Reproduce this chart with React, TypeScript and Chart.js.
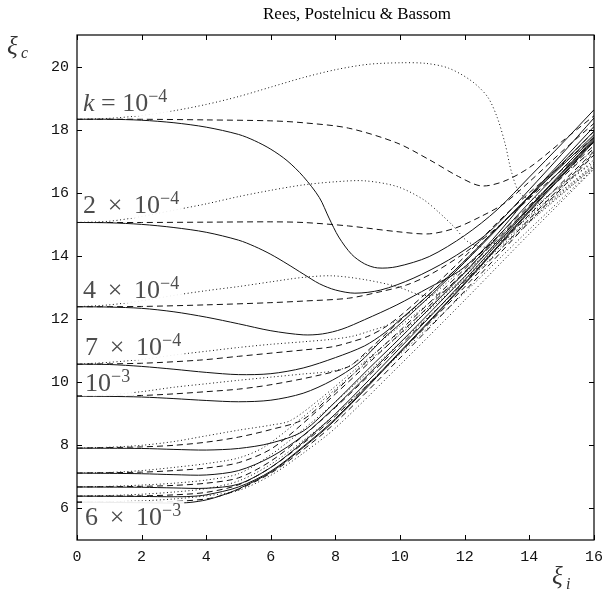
import React, { useEffect, useRef } from 'react';
import { Chart, registerables } from 'chart.js';

Chart.register(...registerables);

const xTickValues = [0, 2, 4, 6, 8, 10, 12, 14, 16];
const yTickValues = [6, 8, 10, 12, 14, 16, 18, 20];

// k = 1e-4
const k1Solid = [[0,18.33],[1,18.33],[2,18.3],[3,18.22],[4,18.08],[5,17.85],[5.5,17.65],[6,17.38],[6.5,17.02],[7,16.52],[7.5,15.85],[7.8,15.2],[8.1,14.6],[8.5,14.05],[8.9,13.75],[9.3,13.62],[9.9,13.66],[10.9,13.98],[12,14.65],[13,15.46],[14,16.5],[15,17.55],[16,18.63]];
const k1Dashed = [[0,18.33],[2,18.33],[4,18.31],[6,18.28],[7,18.22],[8.4,18.05],[9.9,17.58],[10.9,17.05],[11.8,16.52],[12.5,16.22],[13.2,16.36],[14,16.8],[15,17.62],[16,18.44]];
const k1Dotted = [[0,18.33],[1,18.36],[2,18.45],[3,18.6],[4,18.8],[5,19.05],[6,19.35],[7,19.65],[8,19.9],[9,20.07],[10,20.12],[10.8,20.1],[11.5,19.95],[12.2,19.55],[12.7,19.05],[13,18.4],[13.25,17.55],[13.45,16.65],[13.7,16.0],[14.1,15.8],[15,16.56],[16,17.35]];
// k = 2e-4
const k2Solid = [[0,15.06],[1,15.05],[2,15.0],[3,14.9],[4,14.75],[5,14.5],[5.5,14.3],[6,14.05],[6.5,13.75],[7,13.43],[7.5,13.12],[8,12.92],[8.6,12.82],[9.4,12.92],[10.4,13.29],[11.5,13.87],[12.5,14.55],[13,15.0],[14,16.1],[15,17.22],[16,18.37]];
const k2Dashed = [[0,15.06],[2,15.06],[4,15.07],[6,15.08],[7,15.06],[8.4,14.95],[9.9,14.77],[10.9,14.7],[11.7,14.88],[12.5,15.25],[13.2,15.65],[14,16.35],[15,17.3],[16,18.2]];
const k2Dotted = [[0,15.06],[1,15.1],[2,15.25],[3,15.45],[4,15.65],[5,15.88],[6,16.08],[7,16.25],[8,16.35],[8.9,16.38],[9.9,16.2],[10.7,15.8],[11.2,15.38],[11.66,14.93],[12.1,14.45],[12.6,14.28],[13,14.45],[14,15.37],[15,16.27],[16,17.2]];
// k = 4e-4
const k3Solid = [[0,12.39],[1,12.38],[2,12.34],[3,12.23],[4,12.06],[5,11.85],[6,11.63],[7,11.5],[7.6,11.53],[8.2,11.68],[8.9,11.98],[9.9,12.45],[10.9,13.0],[11.8,13.5],[12.5,14.12],[13.2,14.92],[14,15.9],[15,17.0],[16,18.1]];
const k3Dashed = [[0,12.39],[2,12.4],[4,12.45],[6,12.52],[7,12.57],[8.4,12.66],[9.4,12.87],[10.2,13.08],[11,13.45],[12,14.1],[13,14.9],[14,15.85],[15,16.9],[16,17.95]];
const k3Dotted = [[0,12.39],[1,12.45],[2,12.58],[3,12.75],[4,12.9],[5,13.03],[6,13.18],[7,13.32],[7.9,13.37],[8.9,13.25],[9.9,13.03],[10.7,12.75],[11.3,12.85],[12,13.45],[13,14.42],[14,15.29],[15,16.16],[16,17.05]];
// k = 7e-4
const k4Solid = [[0,10.57],[1,10.56],[2,10.5],[3,10.41],[4,10.31],[5,10.24],[6,10.27],[7,10.45],[8,10.78],[8.9,11.15],[9.5,11.55],[10,11.98],[11,12.88],[12,13.85],[13,14.88],[14,15.9],[15,16.92],[16,17.95]];
const k4Dashed = [[0,10.57],[2,10.6],[3.8,10.7],[5,10.82],[6,10.92],[7,11.02],[7.9,11.12],[8.5,11.28],[9,11.45],[9.5,11.72],[10,12.1],[11,13.0],[12,13.98],[13,15.05],[14,16.0],[15,16.88],[16,17.75]];
const k4Dotted = [[0,10.57],[1,10.63],[2,10.72],[3,10.86],[4,10.98],[5,11.1],[6,11.2],[7,11.28],[7.9,11.36],[8.5,11.45],[9,11.6],[9.7,11.85],[10.5,12.35],[11.5,13.2],[12.5,14.12],[13.5,15.01],[14.5,15.85],[15.25,16.44],[16,16.96]];
// k = 1e-3
const k5Solid = [[0,9.56],[1,9.55],[2,9.53],[3,9.48],[4,9.42],[5,9.38],[6,9.43],[7,9.65],[7.9,10.06],[8.7,10.59],[9.5,11.4],[10,11.85],[11,12.8],[12,13.8],[13,14.85],[14,15.88],[15,16.85],[16,17.84]];
const k5Dashed = [[0,9.56],[2,9.58],[3,9.63],[4,9.7],[5,9.78],[6,9.92],[7.4,10.2],[8.4,10.49],[9,11.0],[10,11.95],[11,12.88],[12,13.85],[13,14.88],[14,15.82],[15,16.72],[16,17.6]];
const k5Dotted = [[0,9.56],[1,9.6],[2,9.7],[3,9.84],[4,9.95],[5,10.06],[6,10.16],[7,10.26],[7.9,10.35],[8.5,10.55],[9.5,11.38],[10.5,12.18],[11.5,13.01],[12.5,13.92],[13.5,14.81],[14.5,15.67],[15.25,16.27],[16,16.9]];
// k = 2e-3
const k6Solid = [[0,7.91],[2,7.9],[3,7.87],[4,7.85],[5,7.9],[6,8.07],[7,8.45],[8,9.38],[9,10.4],[10,11.4],[12,13.48],[14,15.69],[16,17.78]];
const k6Dashed = [[0,7.91],[2,7.95],[3,8.0],[4,8.1],[5,8.26],[6,8.5],[7,8.82],[8,9.72],[9,10.7],[10,11.64],[12,13.59],[14,15.6],[16,17.5]];
const k6Dotted = [[0,7.91],[1,7.94],[2,8.0],[3,8.12],[4,8.3],[5,8.48],[6,8.64],[6.6,8.78],[7.5,9.45],[8.5,10.31],[10,11.6],[12,13.34],[14,15.17],[16,16.86]];
// k = 3e-3
const k7Solid = [[0,7.12],[2,7.1],[3,7.07],[4,7.06],[5,7.2],[6,7.63],[7,8.31],[8,9.23],[10,11.25],[12,13.35],[14,15.55],[16,17.73]];
const k7Dashed = [[0,7.12],[2,7.15],[3,7.2],[4,7.28],[5,7.45],[6,7.88],[7,8.7],[8,9.63],[10,11.54],[12,13.5],[14,15.53],[16,17.41]];
const k7Dotted = [[0,7.12],[1,7.14],[2,7.2],[3,7.3],[4,7.42],[5,7.6],[5.8,7.95],[7,8.9],[8,9.78],[10,11.51],[12,13.27],[14,15.11],[16,16.83]];
// k = 4e-3
const k8Solid = [[0,6.68],[2,6.67],[3,6.65],[4,6.64],[5,6.77],[6,7.3],[7,8.1],[8,9.0],[10,11.09],[12,13.24],[14,15.51],[16,17.69]];
const k8Dashed = [[0,6.68],[2,6.7],[3,6.73],[4,6.8],[5,6.97],[6,7.5],[7,8.3],[8,9.2],[10,11.17],[12,13.19],[14,15.31],[16,17.31]];
const k8Dotted = [[0,6.68],[1,6.7],[2,6.74],[3,6.8],[4,6.9],[5,7.1],[6,7.7],[7,8.5],[8,9.38],[10,11.25],[12,13.14],[14,15.06],[16,16.81]];
// k = 5e-3
const k9Solid = [[0,6.39],[2,6.38],[3,6.37],[3.5,6.38],[4,6.43],[5,6.68],[6,7.18],[7,7.96],[8,8.85],[10,10.97],[12,13.14],[14,15.44],[16,17.65]];
const k9Dashed = [[0,6.39],[2,6.4],[3,6.43],[4,6.51],[5,6.75],[6,7.3],[7,8.06],[8,8.93],[10,10.94],[12,13.02],[14,15.17],[16,17.26]];
const k9Dotted = [[0,6.39],[1,6.41],[2,6.45],[3,6.52],[4,6.63],[5,6.87],[6,7.4],[7,8.15],[8,8.99],[10,10.89],[12,12.84],[14,14.84],[16,16.77]];
// k = 6e-3
const k10Solid = [[0,6.2],[2,6.18],[3,6.17],[3.5,6.19],[4,6.27],[4.5,6.42],[5,6.62],[6,7.15],[7,7.93],[8,8.81],[10,10.94],[12,13.11],[14,15.4],[16,17.62]];
const k10Dashed = [[0,6.2],[2,6.2],[3,6.22],[4,6.3],[4.5,6.42],[5,6.6],[6,7.12],[7,7.86],[8,8.72],[10,10.77],[12,12.89],[14,15.08],[16,17.2]];
const k10Dotted = [[0,6.2],[1,6.21],[2,6.24],[3,6.3],[4,6.4],[5,6.57],[6,7.05],[7,7.75],[8,8.55],[10,10.55],[12,12.6],[14,14.7],[16,16.75]];

const solidCurves = [k1Solid, k2Solid, k3Solid, k4Solid, k5Solid, k6Solid, k7Solid, k8Solid, k9Solid, k10Solid];
const dashedCurves = [k1Dashed, k2Dashed, k3Dashed, k4Dashed, k5Dashed, k6Dashed, k7Dashed, k8Dashed, k9Dashed, k10Dashed];
const dottedCurves = [k1Dotted, k2Dotted, k3Dotted, k4Dotted, k5Dotted, k6Dotted, k7Dotted, k8Dotted, k9Dotted, k10Dotted];

type Part = { t: string; italic?: boolean; sup?: boolean };
const SP = ' \u2009';
const curveLabels: { parts: Part[]; x: number; base: number }[] = [
  { parts: [{ t: 'k', italic: true }, { t: ' = 10' }, { t: '\u22124', sup: true }], x: 83, base: 111 },
  { parts: [{ t: `2${SP}\u00d7${SP}10` }, { t: '\u22124', sup: true }], x: 83, base: 213 },
  { parts: [{ t: `4${SP}\u00d7${SP}10` }, { t: '\u22124', sup: true }], x: 83, base: 298 },
  { parts: [{ t: `7${SP}\u00d7${SP}10` }, { t: '\u22124', sup: true }], x: 85, base: 355 },
  { parts: [{ t: '10' }, { t: '\u22123', sup: true }], x: 85, base: 391 },
  { parts: [{ t: `6${SP}\u00d7${SP}10` }, { t: '\u22123', sup: true }], x: 85, base: 525 },
];

const titleText = 'Rees, Postelnicu & Bassom';

const SERIF = '"Liberation Serif", "DejaVu Serif", serif';
const MONO = '"Liberation Mono", "DejaVu Sans Mono", monospace';

const decorPlugin = {
  id: 'decor',
  afterDatasetsDraw(chart: any) {
    const ctx = chart.ctx as CanvasRenderingContext2D;
    ctx.save();
    for (const lab of curveLabels) {
      let w = 0;
      for (const p of lab.parts) {
        ctx.font = `${p.italic ? 'italic ' : ''}${p.sup ? 18 : 26}px ${SERIF}`;
        w += ctx.measureText(p.t).width;
      }
      ctx.fillStyle = 'rgba(255,255,255,0.92)';
      ctx.fillRect(lab.x - 3, lab.base - 24, w + 6, 29);
      let cx = lab.x;
      ctx.fillStyle = '#4d4d4d';
      ctx.textBaseline = 'alphabetic';
      ctx.textAlign = 'left';
      for (const p of lab.parts) {
        ctx.font = `${p.italic ? 'italic ' : ''}${p.sup ? 18 : 26}px ${SERIF}`;
        ctx.fillText(p.t, cx, p.sup ? lab.base - 9 : lab.base);
        cx += ctx.measureText(p.t).width;
      }
    }
    ctx.restore();
  },
  afterDraw(chart: any) {
    const ctx = chart.ctx as CanvasRenderingContext2D;
    const a = chart.chartArea;
    const xs = chart.scales.x;
    const ys = chart.scales.y;
    ctx.save();
    ctx.strokeStyle = '#000';
    ctx.lineWidth = 1.2;
    ctx.setLineDash([]);
    ctx.strokeRect(a.left, a.top, a.right - a.left, a.bottom - a.top);
    ctx.lineWidth = 1;
    ctx.beginPath();
    for (const v of xTickValues) {
      const px = Math.round(xs.getPixelForValue(v)) + 0.5;
      ctx.moveTo(px, a.bottom); ctx.lineTo(px, a.bottom - 5);
      ctx.moveTo(px, a.top); ctx.lineTo(px, a.top + 5);
    }
    for (const v of yTickValues) {
      const py = Math.round(ys.getPixelForValue(v)) + 0.5;
      ctx.moveTo(a.left, py); ctx.lineTo(a.left + 5, py);
      ctx.moveTo(a.right, py); ctx.lineTo(a.right - 5, py);
    }
    ctx.stroke();

    ctx.fillStyle = '#000';
    ctx.font = `17px ${SERIF}`;
    ctx.textAlign = 'center';
    ctx.textBaseline = 'alphabetic';
    ctx.fillText(titleText, 357, 19);

    ctx.fillStyle = '#333';
    ctx.textAlign = 'left';
    ctx.font = `italic 25px ${SERIF}`;
    ctx.fillText('\u03be', 7, 54);
    ctx.font = `italic 16px ${SERIF}`;
    ctx.fillText('c', 21, 58);
    ctx.font = `italic 25px ${SERIF}`;
    ctx.fillText('\u03be', 552, 584);
    ctx.font = `italic 16px ${SERIF}`;
    ctx.fillText('i', 566, 589);
    ctx.restore();
  },
};

function makeDataset(points: number[][], dash: number[]) {
  return {
    data: points.map(([x, y]) => ({ x, y })),
    borderColor: '#111',
    borderWidth: 1,
    borderDash: dash,
    pointRadius: 0,
    fill: false,
    tension: 0.3,
  };
}

export default function App() {
  const ref = useRef<HTMLCanvasElement>(null);
  useEffect(() => {
    if (!ref.current) return;
    const datasets = [
      ...dottedCurves.map((c) => makeDataset(c, [1, 2.6])),
      ...dashedCurves.map((c) => makeDataset(c, [6, 4])),
      ...solidCurves.map((c) => makeDataset(c, [])),
    ];
    const tickFont = { family: MONO, size: 15 };
    const chart = new Chart(ref.current, {
      type: 'line',
      data: { datasets },
      options: {
        responsive: false,
        animation: false,
        events: [],
        layout: { padding: { top: 35, right: 13, left: 0, bottom: 0 } },
        plugins: { legend: { display: false }, tooltip: { enabled: false }, title: { display: false } },
        scales: {
          x: {
            type: 'linear',
            min: 0,
            max: 16,
            grid: { display: false, drawTicks: false },
            border: { display: false },
            ticks: { font: tickFont, color: '#111', padding: 8, maxRotation: 0, autoSkip: false },
            afterBuildTicks: (s: any) => { s.ticks = xTickValues.map((v) => ({ value: v })); },
            afterFit: (s: any) => { s.height = 55; },
          },
          y: {
            type: 'linear',
            min: 5,
            max: 21,
            grid: { display: false, drawTicks: false },
            border: { display: false },
            ticks: { font: tickFont, color: '#111', padding: 8, autoSkip: false },
            afterBuildTicks: (s: any) => { s.ticks = yTickValues.map((v) => ({ value: v })); },
            afterFit: (s: any) => { s.width = 77; },
          },
        },
      },
      plugins: [decorPlugin],
    } as any);
    return () => chart.destroy();
  }, []);
  return (
    <div style={{ position: 'fixed', left: 0, top: 0, width: 611, height: 595, background: '#fff' }}>
      <canvas ref={ref} width={611} height={595} style={{ display: 'block' }} />
    </div>
  );
}
